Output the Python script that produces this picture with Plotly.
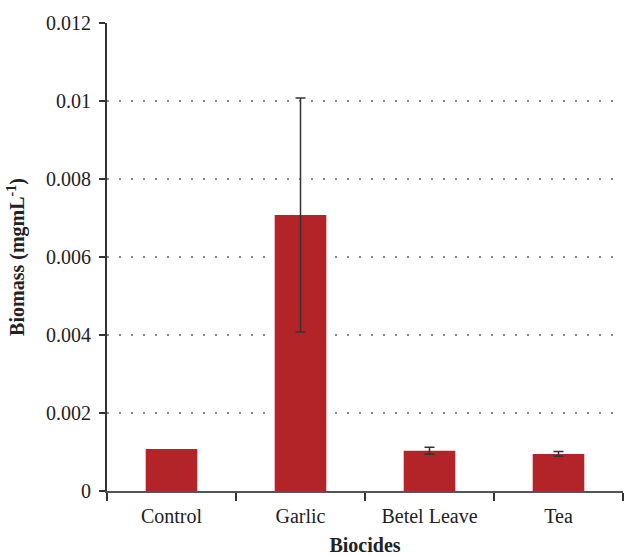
import plotly.graph_objects as go

# Biomass measured for each biocide treatment
biocides = ["Control", "Garlic", "Betel Leave", "Tea"]
biomass = [0.00108, 0.00708, 0.00103, 0.00095]
biomass_err = [None, 0.003, 0.00009, 0.00006]
y_ticks = [0, 0.002, 0.004, 0.006, 0.008, 0.01, 0.012]

serif = "Liberation Serif, Times New Roman, serif"

fig = go.Figure(
    go.Bar(
        x=biocides,
        y=biomass,
        marker=dict(color="#b32428", line=dict(width=0)),
        hoverinfo="x+y",
    )
)

# Error bars only where a spread was measured
has_err = [i for i, e in enumerate(biomass_err) if e is not None]
fig.add_trace(
    go.Scatter(
        x=[biocides[i] for i in has_err],
        y=[biomass[i] for i in has_err],
        mode="markers",
        marker=dict(size=1, opacity=0),
        error_y=dict(
            type="data",
            array=[biomass_err[i] for i in has_err],
            visible=True,
            color="#333333",
            thickness=1.5,
            width=5,
        ),
        hoverinfo="skip",
    )
)

fig.update_layout(
    width=624,
    height=556,
    margin=dict(l=107, r=1, t=23, b=65),
    paper_bgcolor="white",
    plot_bgcolor="white",
    bargap=0.6,
    showlegend=False,
    font=dict(family=serif, size=20, color="#222222"),
)

fig.update_xaxes(
    title=dict(text="<b>Biocides</b>", font=dict(size=20), standoff=15),
    showline=True,
    linecolor="#555555",
    linewidth=2,
    ticks="outside",
    tickson="boundaries",
    ticklen=8,
    tickwidth=1.5,
    tickcolor="#333333",
    ticklabelstandoff=6,
    showgrid=False,
    tickfont=dict(size=20),
)

fig.update_yaxes(
    title=dict(text="<b>Biomass (mgmL<sup>-1</sup>)</b>", font=dict(size=20), standoff=16),
    range=[0, 0.012],
    tickvals=y_ticks,
    ticktext=[("%g" % v) for v in y_ticks],
    showline=True,
    linecolor="#333333",
    linewidth=2,
    ticks="outside",
    ticklen=6,
    tickwidth=1.5,
    tickcolor="#333333",
    ticklabelstandoff=4,
    showgrid=True,
    gridcolor="#888888",
    gridwidth=1.5,
    griddash="1.5px,10.5px",
    zeroline=False,
    tickfont=dict(size=20),
)

fig.write_html("out.html")
